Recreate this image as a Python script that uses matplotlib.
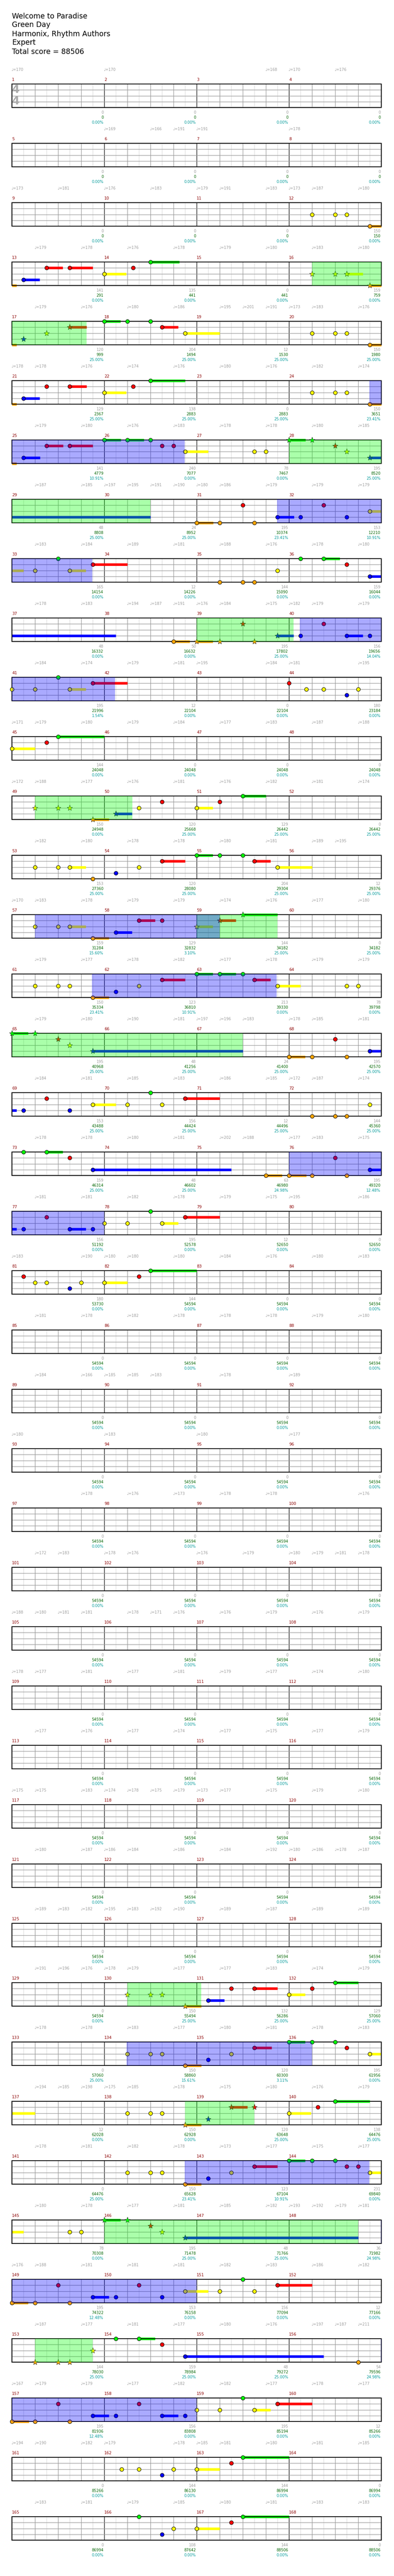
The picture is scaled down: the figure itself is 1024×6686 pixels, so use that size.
import numpy as np; import matplotlib.pyplot as plt

W, H = 1024, 6686
plt.rcParams['font.family'] = ['DejaVu Sans']

# Header lines
header = ['Welcome to Paradise', 'Green Day', 'Harmonix, Rhythm Authors', 'Expert', 'Total score = 88506']

lane_y = {'G': 4, 'R': 3, 'Y': 2, 'B': 1, 'O': 0}
lane_col = {'G': '#00ff00', 'R': '#ff0000', 'Y': '#ffff00', 'B': '#0000ff', 'O': '#ffa500'}

# Notes: (measure, beat in measure, lane, sustain length in beats)
notes = [
    (12, 1, 'Y', 0), (12, 2, 'Y', 0), (12, 2.5, 'Y', 0), (12, 3.5, 'O', 0.7),
    (13, 0.5, 'B', 0.7), (13, 1.5, 'R', 0.7), (13, 2.5, 'R', 1.0), (14, 0, 'Y', 0.95), (14, 1.25, 'R', 0), (14, 2, 'G', 1.25),
    (16, 1, 'Y', 0), (16, 2, 'Y', 0), (16, 2.5, 'Y', 0.7), (16, 3.5, 'O', 0.7),
    (17, 0.5, 'B', 0), (17, 1.5, 'Y', 0), (17, 2.5, 'R', 0.73), (18, 0, 'G', 0.7), (18, 1, 'G', 0), (18, 2, 'G', 0),
    (18, 2.5, 'R', 0.7), (18, 3.5, 'Y', 1.5), (20, 1, 'Y', 0), (20, 2, 'Y', 0), (20, 2.5, 'Y', 0), (20, 3.5, 'O', 0.7),
    (21, 0.5, 'B', 0.7), (21, 1.5, 'R', 0), (21, 2.5, 'R', 0.73), (22, 0, 'Y', 0.95), (22, 1.25, 'R', 0), (22, 2, 'G', 1.5),
    (24, 1, 'Y', 0), (24, 2, 'Y', 0), (24, 2.5, 'Y', 0), (24, 3.5, 'O', 0.7),
    (25, 0.5, 'B', 0.72), (25, 1.5, 'R', 0.72), (25, 2.5, 'R', 1.0), (26, 0, 'G', 0.72), (26, 1, 'G', 0.72), (26, 2, 'G', 0),
    (26, 2.5, 'R', 0), (26, 3, 'R', 0), (26, 3.5, 'Y', 1.0), (27, 2.5, 'Y', 0), (27, 3, 'Y', 0),
    (28, 0, 'G', 0.72), (28, 1, 'G', 0), (28, 2, 'R', 0), (28, 2.5, 'Y', 0), (28, 3.5, 'B', 6.5),
    (31, 0, 'O', 0.72), (31, 1, 'O', 0), (31, 2, 'R', 0), (31, 2.5, 'O', 0), (31, 3.5, 'B', 0.71),
    (32, 0.5, 'B', 0), (32, 1.5, 'R', 0), (32, 2.5, 'B', 0), (32, 3.5, 'Y', 1.0),
    (33, 1, 'Y', 0), (33, 2, 'G', 0), (33, 2.5, 'Y', 0.7), (33, 3.5, 'R', 1.5),
    (35, 1, 'O', 0), (35, 2, 'O', 0), (35, 2.5, 'O', 0), (35, 3.5, 'Y', 0),
    (36, 0.5, 'G', 0), (36, 1.5, 'G', 0.7), (36, 2.5, 'R', 0), (36, 3.5, 'B', 5.0),
    (38, 3, 'O', 0.7), (39, 0, 'O', 0.7), (39, 1, 'O', 0), (39, 2, 'R', 0), (39, 2.5, 'O', 0), (39, 3.5, 'B', 0.7),
    (40, 0.5, 'B', 0), (40, 1.5, 'R', 0), (40, 2.5, 'B', 0.7), (40, 3.5, 'B', 0),
    (41, 0, 'Y', 0), (41, 1, 'Y', 0), (41, 2, 'G', 0), (41, 2.5, 'Y', 0.7), (41, 3.5, 'R', 1.5),
    (44, 0, 'R', 0), (44, 0.75, 'Y', 0), (44, 1.5, 'Y', 0), (44, 2.5, 'B', 0), (44, 3, 'Y', 0),
    (45, 0, 'Y', 1.0), (45, 1.5, 'R', 0), (45, 2, 'G', 2.0),
    (49, 1, 'Y', 0), (49, 2, 'Y', 0), (49, 2.5, 'Y', 0), (49, 3.5, 'O', 0.7), (50, 0.5, 'B', 0.7), (50, 1.5, 'Y', 0),
    (50, 2.5, 'R', 0), (51, 0, 'Y', 0.7), (51, 1, 'R', 0), (51, 2, 'G', 1.0),
    (53, 1, 'Y', 0), (53, 2, 'Y', 0), (53, 2.5, 'Y', 0.7), (53, 3.5, 'O', 0), (54, 0.5, 'B', 0), (54, 1.5, 'Y', 0),
    (54, 2.5, 'R', 1.0), (55, 0, 'G', 0.7), (55, 1, 'G', 0), (55, 2, 'G', 0), (55, 2.5, 'R', 0.7), (55, 3.5, 'Y', 1.5),
    (57, 1, 'Y', 0), (57, 2, 'Y', 0), (57, 2.5, 'Y', 0.7), (57, 3.5, 'O', 0.7), (58, 0.5, 'B', 0.7), (58, 1.5, 'R', 0.7),
    (58, 2.5, 'R', 0), (59, 0, 'Y', 0.7), (59, 1, 'R', 0.7), (59, 2, 'G', 1.5),
    (61, 1, 'Y', 0), (61, 2, 'Y', 0), (61, 2.5, 'Y', 0), (61, 3.5, 'O', 0.7), (62, 0.5, 'B', 0), (62, 1.5, 'Y', 0),
    (62, 2.5, 'R', 1.0), (63, 0, 'G', 0.7), (63, 1, 'G', 0.7), (63, 2, 'G', 0), (63, 2.5, 'R', 0.7), (63, 3.5, 'Y', 1.0),
    (64, 2.5, 'Y', 0), (64, 3, 'Y', 0),
    (65, 0, 'G', 0.7), (65, 1, 'G', 0), (65, 2, 'R', 0), (65, 2.5, 'Y', 0), (65, 3.5, 'B', 6.5),
    (68, 0, 'O', 0.7), (68, 1, 'O', 0), (68, 2, 'R', 0), (68, 2.5, 'O', 0), (68, 3.5, 'B', 0.7),
    (69, 0.5, 'B', 0), (69, 1.5, 'R', 0), (69, 2.5, 'B', 0), (69, 3.5, 'Y', 1.0), (70, 1, 'Y', 0), (70, 2, 'G', 0),
    (70, 2.5, 'Y', 0), (70, 3.5, 'R', 1.5), (72, 1, 'O', 0), (72, 2, 'O', 0), (72, 2.5, 'O', 0), (72, 3.5, 'Y', 0),
    (73, 0.5, 'G', 0), (73, 1.5, 'G', 0.7), (73, 2.5, 'R', 0), (73, 3.5, 'B', 6.0), (75, 3, 'O', 0.7),
    (76, 0, 'O', 0.75), (76, 1, 'O', 0), (76, 2, 'R', 0), (76, 2.5, 'O', 0), (76, 3.5, 'B', 0.7),
    (77, 0.5, 'B', 0), (77, 1.5, 'R', 0), (77, 2.5, 'B', 0.7), (77, 3.5, 'B', 0), (78, 0, 'Y', 0), (78, 1, 'Y', 0),
    (78, 2, 'G', 0), (78, 2.5, 'Y', 0.7), (78, 3.5, 'R', 1.5),
    (81, 0.5, 'R', 0), (81, 1, 'Y', 0), (81, 1.5, 'Y', 0), (81, 2.5, 'B', 0), (81, 3, 'Y', 0), (82, 0, 'Y', 1.0),
    (82, 1.5, 'R', 0), (82, 2, 'G', 2.0),
    (130, 1, 'Y', 0), (130, 2, 'Y', 0), (130, 2.5, 'Y', 0), (130, 3.5, 'O', 0.7), (131, 0.5, 'B', 0.7), (131, 1.5, 'R', 0),
    (131, 2.5, 'R', 1.0), (132, 0, 'Y', 0.7), (132, 1, 'R', 0), (132, 2, 'G', 1.0),
    (134, 1, 'Y', 0), (134, 2, 'Y', 0), (134, 2.5, 'Y', 0), (134, 3.5, 'O', 0.7), (135, 0.5, 'B', 0), (135, 1.5, 'Y', 0),
    (135, 2.5, 'R', 0.75), (136, 0, 'G', 0.7), (136, 1, 'G', 0), (136, 2, 'G', 0), (136, 2.5, 'R', 0), (136, 3.5, 'Y', 1.5),
    (138, 1, 'Y', 0), (138, 2, 'Y', 0), (138, 2.5, 'Y', 0), (138, 3.5, 'O', 0.7), (139, 0.5, 'B', 0), (139, 1.5, 'R', 0.7),
    (139, 2.5, 'R', 0), (140, 0, 'Y', 0.95), (140, 1.25, 'R', 0), (140, 2, 'G', 1.5),
    (142, 1, 'Y', 0), (142, 2, 'Y', 0), (142, 2.5, 'Y', 0), (142, 3.5, 'O', 0.7), (143, 0.5, 'B', 0), (143, 1.5, 'Y', 0),
    (143, 2.5, 'R', 1.0), (144, 0, 'G', 0.7), (144, 1, 'G', 0), (144, 2, 'G', 0), (144, 2.5, 'R', 0), (144, 3, 'R', 0),
    (144, 3.5, 'Y', 1.0),
    (145, 2.5, 'Y', 0), (145, 3, 'Y', 0), (146, 0, 'G', 0.7), (146, 1, 'G', 0), (146, 2, 'R', 0), (146, 2.5, 'Y', 0),
    (146, 3.5, 'B', 7.5),
    (149, 0, 'O', 0.7), (149, 1, 'O', 0), (149, 2, 'R', 0), (149, 2.5, 'O', 0), (149, 3.5, 'B', 0.7), (150, 0.5, 'B', 0),
    (150, 1.5, 'R', 0), (150, 2.5, 'B', 0), (150, 3.5, 'Y', 1.0), (151, 1, 'Y', 0), (151, 2, 'G', 0), (151, 2.5, 'Y', 0),
    (151, 3.5, 'R', 1.5),
    (153, 1, 'O', 0), (153, 2, 'O', 0), (153, 2.5, 'O', 0), (153, 3.5, 'Y', 0), (154, 0.5, 'G', 0), (154, 1.5, 'G', 0.7),
    (154, 2.5, 'R', 0), (154, 3.5, 'B', 6.0), (156, 3, 'O', 0),
    (157, 0, 'O', 0.73), (157, 1, 'O', 0), (157, 2, 'R', 0), (157, 2.5, 'O', 0), (157, 3.5, 'B', 0.7), (158, 0.5, 'B', 0),
    (158, 1.5, 'R', 0), (158, 2.5, 'B', 0.7), (158, 3.5, 'B', 0), (159, 0, 'Y', 0), (159, 1, 'Y', 0), (159, 2, 'G', 0),
    (159, 2.5, 'Y', 0.7), (159, 3.5, 'R', 1.5),
    (162, 0.75, 'Y', 0), (162, 1.5, 'Y', 0), (162, 2.5, 'B', 0), (162, 3, 'Y', 0), (163, 0, 'Y', 1.0), (163, 1.5, 'R', 0),
    (163, 2, 'G', 2.0),
    (166, 1.5, 'G', 0), (166, 2.5, 'B', 0), (166, 3, 'Y', 0), (167, 0, 'Y', 1.0), (167, 1.5, 'R', 0), (167, 2, 'G', 2.0),
]

# Star power phrases (green) and activations (blue): (start measure, beat, end measure, beat)
phrases = [(16, 1, 17, 3.23), (28, 0, 30, 2), (39, 0, 40, 0.2), (49, 1, 50, 1.21), (59, 0, 59, 3.5),
           (65, 0, 67, 2), (130, 1, 131, 0.2), (138, 3.5, 139, 2.5), (146, 0, 148, 3), (153, 1, 153, 3.5)]
activations = [(24, 3.48, 26, 3.48), (31, 3.49, 33, 3.49), (40, 0.47, 42, 0.47), (57, 1, 59, 1),
               (61, 3.47, 63, 3.47), (76, 0, 78, 0), (134, 0.97, 136, 1), (142, 3.48, 144, 3.48),
               (148, 3.98, 151, 0), (156, 3.98, 159, 0)]

# Tempo markers per row (first measure of row: [(beat in row, bpm)])
tempos = {
    1: [(0, 170), (4, 170), (11, 168), (12, 170), (14, 176)],
    5: [(4, 169), (6, 166), (7, 191), (8, 191), (12, 178)],
    9: [(0, 173), (2, 181), (4, 176), (6, 183), (8, 179), (9, 191), (11, 183), (12, 173), (13, 187), (15, 180)],
    13: [(1, 179), (3, 178), (5, 176), (7, 178), (9, 179), (11, 180), (13, 183), (15, 180)],
    17: [(1, 179), (3, 176), (5, 180), (7, 186), (9, 195), (10, 201), (11, 191), (12, 173), (13, 183), (15, 176)],
    21: [(0, 178), (1, 178), (3, 176), (5, 174), (7, 176), (9, 180), (11, 176), (13, 182), (15, 174)],
    25: [(1, 179), (3, 180), (5, 176), (7, 183), (9, 178), (11, 178), (13, 180), (15, 185)],
    29: [(1, 187), (3, 185), (4, 197), (5, 195), (6, 191), (7, 190), (8, 180), (9, 186), (11, 179), (13, 179), (15, 179)],
    33: [(1, 183), (3, 184), (5, 189), (7, 181), (9, 188), (11, 176), (13, 178), (15, 180)],
    37: [(1, 178), (3, 183), (5, 194), (6, 187), (7, 191), (8, 176), (9, 184), (11, 175), (12, 182), (13, 179), (15, 179)],
    41: [(1, 184), (3, 174), (5, 179), (7, 181), (8, 195), (11, 184), (12, 181), (15, 195)],
    45: [(0, 171), (1, 179), (3, 180), (5, 179), (7, 184), (9, 177), (11, 183), (13, 187), (15, 188)],
    49: [(0, 172), (1, 188), (3, 177), (5, 176), (7, 181), (9, 176), (11, 182), (13, 181), (15, 174)],
    53: [(1, 182), (3, 180), (5, 178), (7, 178), (9, 180), (11, 181), (13, 189), (14, 195)],
    57: [(0, 170), (1, 183), (3, 178), (5, 179), (7, 179), (9, 174), (11, 176), (13, 177), (15, 180)],
    61: [(1, 179), (3, 177), (5, 178), (7, 182), (9, 177), (11, 178), (13, 179), (15, 179)],
    65: [(1, 179), (3, 180), (5, 190), (7, 181), (8, 197), (9, 196), (10, 183), (12, 178), (13, 185), (15, 181)],
    69: [(1, 184), (3, 181), (5, 185), (7, 183), (9, 186), (11, 185), (12, 172), (13, 187), (15, 174)],
    73: [(1, 178), (3, 178), (5, 180), (7, 181), (9, 202), (10, 188), (12, 177), (13, 183), (15, 175)],
    77: [(1, 181), (3, 181), (5, 182), (7, 178), (9, 179), (11, 175), (12, 195), (15, 186)],
    81: [(0, 183), (3, 190), (4, 180), (5, 180), (7, 180), (9, 184), (11, 176), (13, 180), (15, 183)],
    85: [(1, 181), (3, 178), (5, 182), (7, 178), (9, 178), (11, 178), (13, 179), (15, 180)],
    89: [(1, 184), (3, 166), (4, 185), (5, 185), (6, 183), (9, 178), (12, 189)],
    93: [(0, 180), (4, 183), (8, 180), (12, 177)],
    97: [(3, 178), (5, 176), (7, 173), (9, 178), (11, 178), (15, 176)],
    101: [(1, 172), (2, 183), (4, 178), (5, 176), (8, 176), (10, 179), (12, 180), (13, 179), (14, 181), (15, 178)],
    105: [(0, 188), (1, 180), (2, 181), (3, 181), (5, 178), (6, 171), (7, 176), (9, 176), (11, 179), (13, 176), (15, 179)],
    109: [(0, 178), (1, 177), (3, 181), (5, 177), (7, 181), (9, 179), (11, 177), (13, 174), (15, 180)],
    113: [(1, 177), (3, 176), (5, 177), (7, 174), (9, 177), (11, 175), (13, 177), (15, 179)],
    117: [(0, 175), (1, 175), (3, 183), (4, 174), (5, 178), (6, 175), (7, 179), (8, 173), (9, 177), (11, 175), (13, 179), (15, 180)],
    121: [(1, 180), (3, 187), (4, 186), (5, 184), (7, 186), (9, 184), (11, 192), (12, 180), (13, 186), (14, 178), (15, 187)],
    125: [(1, 189), (2, 183), (3, 182), (4, 195), (5, 183), (6, 192), (7, 190), (9, 189), (11, 187), (13, 189), (15, 189)],
    129: [(1, 191), (2, 196), (3, 176), (4, 178), (5, 179), (7, 177), (9, 177), (11, 183), (13, 174), (15, 179)],
    133: [(1, 178), (3, 178), (5, 183), (7, 177), (9, 180), (11, 181), (13, 178), (15, 183)],
    137: [(1, 194), (2, 185), (3, 198), (4, 175), (5, 185), (7, 178), (9, 175), (11, 180), (13, 176), (15, 179)],
    141: [(1, 178), (3, 181), (5, 182), (7, 178), (9, 173), (11, 177), (13, 175), (15, 177)],
    145: [(1, 180), (3, 178), (5, 177), (7, 181), (9, 185), (11, 182), (12, 193), (13, 192), (14, 179), (15, 181)],
    149: [(0, 176), (1, 188), (3, 181), (5, 181), (7, 181), (9, 182), (11, 183), (13, 186), (15, 182)],
    153: [(1, 187), (3, 177), (5, 181), (7, 177), (9, 180), (11, 176), (13, 197), (14, 187), (15, 211)],
    157: [(0, 167), (1, 179), (3, 179), (5, 177), (7, 182), (9, 182), (11, 177), (13, 178), (15, 177)],
    161: [(0, 194), (1, 190), (3, 182), (4, 179), (7, 178), (8, 185), (9, 181), (11, 180), (13, 181), (15, 185)],
    165: [(1, 183), (3, 181), (5, 179), (7, 185), (9, 180), (11, 181), (13, 183), (15, 183)],
}

# Per-measure score, running total and star power percentage (measures 1..168)
meas_score = [0] * 11 + [150] + [
    141, 135, 0, 159, 120, 204, 12, 150, 129, 138, 0, 150, 141, 240, 78, 195, 48, 24, 195, 153,
    165, 12, 144, 159, 48, 50, 195, 156, 195, 12, 0, 180, 144, 0, 0, 0, 150, 120, 129, 0,
    153, 120, 204, 12, 159, 129, 144, 0, 150, 123, 213, 78, 195, 48, 24, 195, 153, 156, 12, 144,
    159, 48, 63, 195, 156, 195, 12, 0, 180, 144, 0, 0] + [0] * 44 + [
    0, 150, 132, 129, 0, 150, 120, 195, 12, 150, 120, 138, 0, 150, 123, 231, 78, 195, 48, 36,
    195, 153, 156, 12, 144, 159, 48, 54, 195, 156, 195, 12, 0, 144, 144, 0, 0, 108, 144, 0]
cum_score = [0] * 11 + [150] + [
    291, 441, 441, 759, 999, 1494, 1530, 1980, 2367, 2883, 2883, 3651, 4779, 7077, 7467, 8520,
    8808, 8952, 10374, 12210, 14154, 14226, 15090, 16044, 16332, 16632, 17802, 19656,
    21996, 22104, 22104, 23184, 24048, 24048, 24048, 24048, 24948, 25668, 26442, 26442,
    27360, 28080, 29304, 29376, 31284, 32832, 34182, 34182, 35334, 36810, 39330, 39798,
    40968, 41256, 41400, 42570, 43488, 44424, 44496, 45360, 46314, 46602, 46980, 49320,
    51192, 52578, 52650, 52650, 53730, 54594, 54594, 54594] + [54594] * 44 + [
    54594, 55494, 56286, 57060, 57060, 58860, 60300, 61956, 62028, 62928, 63648, 64476,
    64476, 65628, 67104, 69840, 70308, 71478, 71766, 71982, 74322, 76158, 77094, 77166,
    78030, 78984, 79272, 79596, 81936, 83808, 85194, 85266, 85266, 86130, 86994, 86994,
    86994, 87642, 88506, 88506]
sp_pct = [0] * 16 + [
    25, 25, 25, 25, 25, 25, 25, 23.41, 10.91, 0, 0, 25, 25, 25, 23.41, 10.91, 0, 0, 0, 0,
    0, 0, 25, 14.04, 1.54, 0, 0, 0, 0, 0, 0, 0, 0, 25, 25, 25, 25, 25, 25, 25,
    15.60, 3.10, 25, 25, 23.41, 10.91, 0, 0, 25, 25, 25, 25, 25, 25, 25, 25,
    25, 25, 24.98, 12.48, 0, 0, 0, 0, 0, 0, 0, 0] + [0] * 44 + [
    0, 25, 25, 25, 25, 15.61, 3.11, 0, 0, 0, 25, 25, 25, 23.41, 10.91, 0, 0, 25, 25, 24.98,
    12.48, 0, 0, 0, 25, 25, 25, 24.98, 12.48, 0, 0, 0, 0, 0, 0, 0, 0, 0, 0, 0]


def ab(m, b):
    return (m - 1) * 4 + b


phr = [(ab(a, b), ab(c, d)) for a, b, c, d in phrases]
act = [(ab(a, b), ab(c, d)) for a, b, c, d in activations]

n_rows = 42
fig = plt.figure(figsize=(W / 100, H / 100), dpi=100)

for i, t in enumerate(header):
    fig.text(31 / W, 1 - (42 + 23 * i) / H, t, fontsize=13.5, va='center', ha='left')

for r in range(n_rows):
    m0 = 4 * r + 1
    x0 = 16 * r
    top = 218 + 154 * r
    ax = fig.add_axes([31 / W, 1 - (top + 61) / H, 960 / W, 61 / H])
    ax.set_xlim(0, 16); ax.set_ylim(0, 4)
    ax.set_xticks([]); ax.set_yticks([])
    for s in ax.spines.values():
        s.set_linewidth(1.5); s.set_color('black')
    for y in (1, 2, 3):
        ax.axhline(y, color='#999999', lw=1, zorder=0.6)
    for i in range(1, 32):
        if i % 8 == 0:
            c = 'black'
        elif i % 2 == 0:
            c = '#999999'
        else:
            c = '#dddddd'
        ax.axvline(i / 2, color=c, lw=1, zorder=0.5 if c == '#dddddd' else 0.55)

    trans = ax.get_xaxis_transform()
    for b, bpm in tempos.get(m0, []):
        ax.text(b - 0.03, 1 + 37 / 61, '\u2669=%d' % bpm, transform=trans, fontsize=7,
                color='#999999', ha='left', va='center')
    for j in range(4):
        m = m0 + j
        ax.text(4 * j, 1 + 11 / 61, str(m), transform=trans, fontsize=7.5, color='#8b0000',
                ha='left', va='center')
        xe = 4 * (j + 1) - 0.03
        ax.text(xe, -13 / 61, str(meas_score[m - 1]), transform=trans, fontsize=7,
                color='#999999', ha='right', va='center')
        ax.text(xe, -26 / 61, str(cum_score[m - 1]), transform=trans, fontsize=7,
                color='#006400', ha='right', va='center')
        ax.text(xe, -39 / 61, '%.2f%%' % sp_pct[m - 1], transform=trans, fontsize=7,
                color='#009999', ha='right', va='center')

    if r == 0:
        ax.text(0.17, 3.0, '4', fontsize=21, fontweight='bold', color='#aaaaaa', ha='center', va='center', zorder=0.7)
        ax.text(0.17, 1.05, '4', fontsize=21, fontweight='bold', color='#aaaaaa', ha='center', va='center', zorder=0.7)

    # sustains and notes
    for m, b, ln, sus in notes:
        a = ab(m, b)
        y = lane_y[ln]
        if sus > 0:
            s0, s1 = max(a, x0), min(a + sus, x0 + 16)
            if s1 > s0:
                ax.plot([s0 - x0, s1 - x0], [y, y], color=lane_col[ln], lw=4.8,
                        solid_capstyle='butt', clip_on=False, zorder=2)
        if x0 <= a < x0 + 16:
            star = any(p0 <= a <= p1 for p0, p1 in phr)
            if star:
                ax.plot(a - x0, y, marker='*', ms=11, mfc=lane_col[ln], mec='#222222', mew=0.6,
                        clip_on=False, zorder=3)
            else:
                ax.plot(a - x0, y, marker='o', ms=7.2, mfc=lane_col[ln], mec='black', mew=0.8,
                        clip_on=False, zorder=3)

    # overlays
    for p0, p1 in phr:
        s0, s1 = max(p0, x0), min(p1, x0 + 16)
        if s1 > s0:
            ax.axvspan(s0 - x0, s1 - x0, color='#00ff00', alpha=1 / 3, lw=0, zorder=4)
    for p0, p1 in act:
        s0, s1 = max(p0, x0), min(p1, x0 + 16)
        if s1 > s0:
            ax.axvspan(s0 - x0, s1 - x0, color='#0000ff', alpha=1 / 3, lw=0, zorder=4)

plt.savefig('out.png', dpi=100)
